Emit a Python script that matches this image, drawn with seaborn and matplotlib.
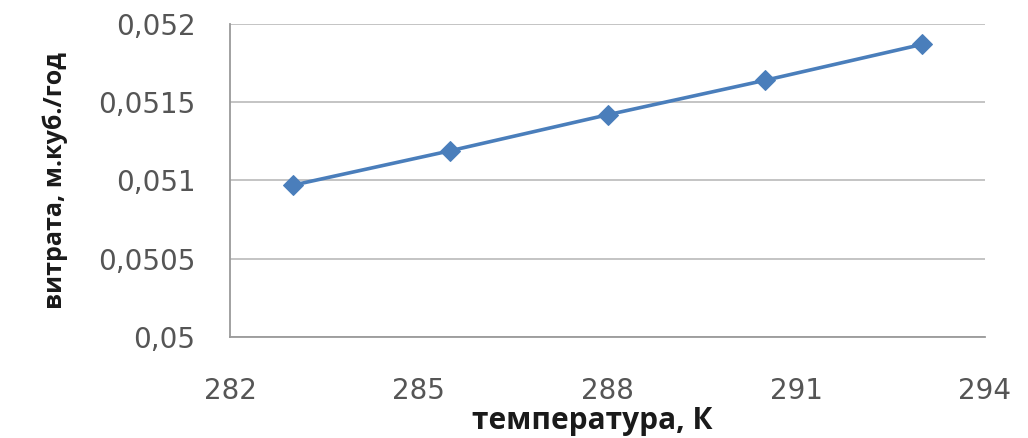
import matplotlib
matplotlib.use("Agg")
import matplotlib.pyplot as plt
import matplotlib.ticker as mticker
import seaborn as sns
import pandas as pd

# Temperature (K) and corresponding flow rate (m³/year)
temperature = [283, 285.5, 288, 290.5, 293]
flow_rate = [0.05097, 0.05119, 0.05142, 0.05164, 0.05187]
x_ticks = [282, 285, 288, 291, 294]
y_ticks = [0.05, 0.0505, 0.051, 0.0515, 0.052]

df = pd.DataFrame({"T": temperature, "Q": flow_rate})

sns.set_theme(style="white")
plt.rcParams["font.family"] = ["Open Sans", "DejaVu Sans"]

fig = plt.figure(figsize=(10.28, 4.38), dpi=100)
ax = fig.add_axes([0.224, 0.231, 0.734, 0.714])

sns.lineplot(data=df, x="T", y="Q", ax=ax, color="#4A7EBB", linewidth=2.6,
             marker="D", markersize=10, markeredgecolor="#4A7EBB",
             markerfacecolor="#4A7EBB")

ax.set_xlim(282, 294)
ax.set_ylim(0.05, 0.052)
ax.set_xticks(x_ticks)
ax.set_yticks(y_ticks)
ax.yaxis.set_major_formatter(mticker.FuncFormatter(
    lambda v, _: f"{v:.4f}".rstrip("0").replace(".", ",")))
ax.xaxis.set_major_formatter(mticker.FuncFormatter(lambda v, _: f"{v:.0f}"))

ax.grid(axis="y", color="#BFBFBF", linewidth=1.3)
ax.grid(axis="x", visible=False)
for side in ("top", "right"):
    ax.spines[side].set_visible(False)
for side in ("left", "bottom"):
    ax.spines[side].set_color("#9A9A9A")
    ax.spines[side].set_linewidth(1.3)

ax.tick_params(axis="both", which="major", length=6, width=1.2,
               color="#9A9A9A", direction="inout", labelsize=20,
               labelcolor="#555555")
ax.tick_params(axis="y", pad=22)
ax.tick_params(axis="x", pad=26)
for lbl in ax.get_xticklabels() + ax.get_yticklabels():
    lbl.set_fontfamily("DejaVu Sans")

ax.set_xlabel("температура, К", fontsize=21.5, fontweight="bold",
              color="#1A1A1A", labelpad=1)
ax.xaxis.label.set_x(0.48)
ax.set_ylabel("витрата, м.куб./год", fontsize=18, fontweight="bold",
              color="#1A1A1A", labelpad=22)

fig.savefig("out.png", dpi=100, facecolor="white")
